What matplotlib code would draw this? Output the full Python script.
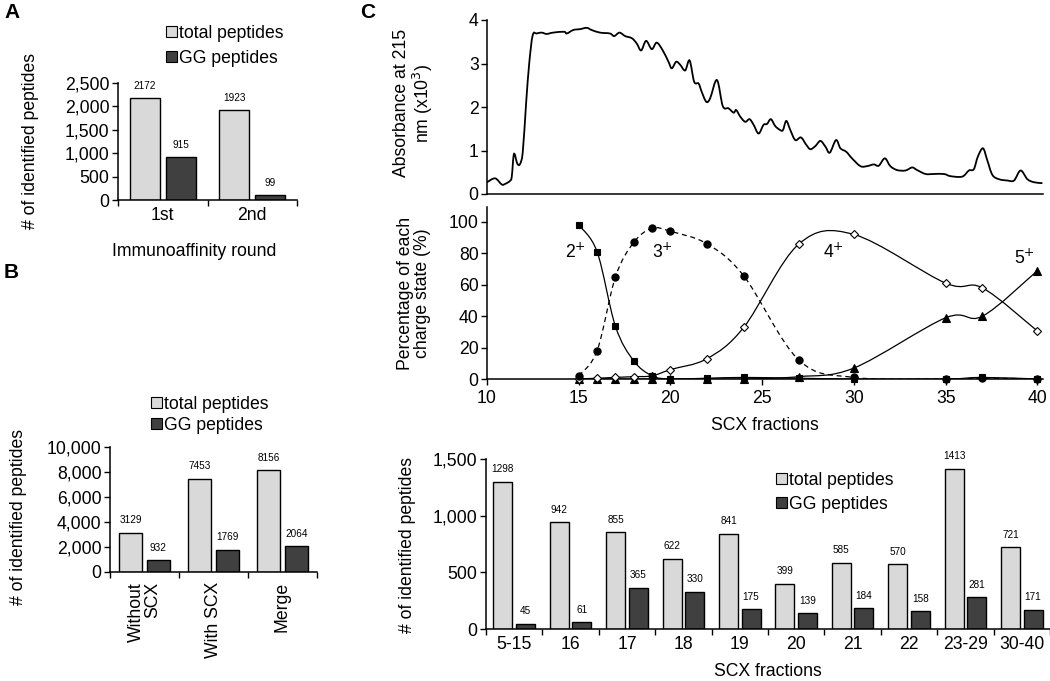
# Figure: ubiquitin GG peptide identification (A, B) and SCX fractionation (C)

import matplotlib.pyplot as plt
import numpy as np
from matplotlib.path import Path
from matplotlib.patches import PathPatch, Patch
from matplotlib.ticker import FuncFormatter

plt.rcParams['font.family'] = ['Liberation Sans', 'DejaVu Sans']

# Data

# A: immunoaffinity rounds
rounds = ['1st', '2nd']
rounds_total = [2172, 1923]
rounds_gg = [915, 99]

# B: with / without SCX
scx_groups = ['Without\nSCX', 'With SCX', 'Merge']
scx_total = [3129, 7453, 8156]
scx_gg = [932, 1769, 2064]

# C top: absorbance trace (x10^3) along SCX fractions
abs_fraction = [10.0, 10.44, 10.8, 10.98, 11.25, 11.35, 11.47, 11.65, 11.8, 11.95,
                12.13, 12.3, 12.49, 12.71, 12.98, 13.25, 13.6, 14.2, 14.35, 14.7,
                15.07, 15.44, 15.7, 16.16, 16.7, 16.93, 17.22, 17.53, 17.9, 18.16,
                18.4, 18.67, 18.98, 19.25, 19.58, 19.89, 20.07, 20.31, 20.53, 20.8,
                21.04, 21.29, 21.53, 21.7, 21.95, 22.16, 22.53, 22.85, 23.16, 23.44,
                23.58, 23.8, 24.07, 24.31, 24.53, 24.8, 25.07, 25.26, 25.47, 25.71,
                25.98, 26.13, 26.31, 26.53, 26.8, 27.11, 27.4, 27.62, 27.89, 28.17,
                28.44, 28.68, 29.02, 29.26, 29.58, 29.89, 30.35, 30.71, 31.08, 31.35,
                31.68, 31.98, 32.35, 32.8, 33.17, 33.44, 33.9, 34.35, 34.9, 35.26,
                35.9, 36.26, 36.53, 36.75, 37.03, 37.26, 37.54, 37.9, 38.36, 38.72,
                39.08, 39.45, 39.81, 40.27]
absorbance = [0.27, 0.36, 0.22, 0.23, 0.30, 0.40, 0.92, 0.70, 0.69, 0.97,
              2.08, 3.00, 3.65, 3.69, 3.71, 3.68, 3.71, 3.73, 3.69, 3.77,
              3.79, 3.82, 3.77, 3.71, 3.69, 3.63, 3.71, 3.63, 3.58, 3.46,
              3.30, 3.52, 3.33, 3.48, 3.30, 3.04, 2.89, 3.04, 2.97, 2.84,
              3.07, 2.58, 2.54, 2.35, 2.12, 2.20, 2.62, 2.02, 1.97, 1.87,
              1.93, 1.78, 1.66, 1.72, 1.59, 1.39, 1.59, 1.61, 1.72, 1.56,
              1.47, 1.47, 1.68, 1.47, 1.24, 1.30, 1.13, 1.03, 1.10, 1.22,
              1.09, 0.95, 1.24, 1.05, 0.97, 0.82, 0.64, 0.64, 0.68, 0.65,
              0.82, 0.64, 0.55, 0.54, 0.61, 0.55, 0.46, 0.46, 0.46, 0.41,
              0.40, 0.54, 0.57, 0.86, 1.05, 0.78, 0.44, 0.34, 0.31, 0.31,
              0.54, 0.34, 0.27, 0.25]

# C middle: charge state distribution (%)
fractions = [15, 16, 17, 18, 19, 20, 22, 24, 27, 30, 35, 37, 40]
charge2 = [98, 81, 33.5, 11.5, 2, 0, 0.5, 1, 0.5, 0, 0, 1, 0]
charge3 = [2, 18, 65, 87, 96, 94, 86, 65.5, 12, 1, 0, 0.5, 0]
charge4 = [0, 0.5, 1, 1.5, 2, 6, 13, 33, 86, 92, 61, 58, 30.5]
charge5 = [0, 0, 0, 0, 0, 0, 0, 0, 1.5, 7, 39, 40, 69]

# C bottom: peptides per SCX fraction
scx_fractions = ['5-15', '16', '17', '18', '19', '20', '21', '22', '23-29', '30-40']
fraction_total = [1298, 942, 855, 622, 841, 399, 585, 570, 1413, 721]
fraction_gg = [45, 61, 365, 330, 175, 139, 184, 158, 281, 171]

# Styling
LIGHT = '#d9d9d9'
DARK = '#404040'
W, H = 1050, 681
FS = 12.7
VAL_FS = 7.2

fig = plt.figure(figsize=(W / 100, H / 100), dpi=100)


def rect(l, t, r, b):
    return [l / W, 1 - b / H, (r - l) / W, (b - t) / H]


def fxy(x, y):
    return x / W, 1 - y / H


def style_axes(ax):
    for s in ['top', 'right']:
        ax.spines[s].set_visible(False)
    for s in ['left', 'bottom']:
        ax.spines[s].set_linewidth(1.1)
    ax.tick_params(direction='out', length=4, width=1.0, labelsize=FS, pad=2)


comma = FuncFormatter(lambda v, _: f'{int(v):,}')


def bar_pair(ax, cats, total, gg, ymax, yticks):
    x = np.arange(len(cats))
    ax.bar(x - 0.2, total, 0.335, color=LIGHT, edgecolor='black', linewidth=1.0, zorder=2)
    ax.bar(x + 0.2, gg, 0.335, color=DARK, edgecolor='black', linewidth=1.0, zorder=2)
    for xi, v in zip(x, total):
        ax.annotate(str(v), (xi - 0.2, v), xytext=(0, 9), textcoords='offset points',
                    ha='center', va='center', fontsize=VAL_FS)
    for xi, v in zip(x, gg):
        ax.annotate(str(v), (xi + 0.2, v), xytext=(0, 9), textcoords='offset points',
                    ha='center', va='center', fontsize=VAL_FS)
    ax.set_xlim(-0.5, len(cats) - 0.5)
    ax.set_ylim(0, ymax)
    ax.set_yticks(yticks)
    ax.yaxis.set_major_formatter(comma)
    style_axes(ax)
    # ticks between categories, labels at category centres
    ax.set_xticks(np.arange(len(cats) + 1) - 0.5)
    ax.set_xticklabels([])
    ax.set_xticks(x, minor=True)
    ax.tick_params(axis='x', which='minor', length=0, labelsize=FS, pad=5)
    return x


def legend_at(ax, x, y, spacing):
    handles = [Patch(facecolor=LIGHT, edgecolor='black', linewidth=0.8),
               Patch(facecolor=DARK, edgecolor='black', linewidth=0.8)]
    ax.legend(handles, ['total peptides', 'GG peptides'], loc='upper left',
              bbox_to_anchor=fxy(x, y), bbox_transform=fig.transFigure,
              frameon=False, fontsize=FS, handlelength=0.6, handleheight=0.6,
              handletextpad=0.15, labelspacing=spacing, borderpad=0, borderaxespad=0)


def smooth_path(x, y):
    # Excel-like smoothed line: cubic Bezier through the points
    pts = np.column_stack([x, y]).astype(float)
    n = len(pts)
    verts = [pts[0]]
    codes = [Path.MOVETO]
    for i in range(n - 1):
        p0 = pts[i - 1] if i > 0 else pts[i]
        p1, p2 = pts[i], pts[i + 1]
        p3 = pts[i + 2] if i + 2 < n else pts[i + 1]
        verts += [p1 + (p2 - p0) / 6, p2 - (p3 - p1) / 6, p2]
        codes += [Path.CURVE4] * 3
    return Path(verts, codes)


# Panel A
axA = fig.add_axes(rect(118, 83, 297, 200))
xa = bar_pair(axA, rounds, rounds_total, rounds_gg, 2500, [0, 500, 1000, 1500, 2000, 2500])
axA.set_xticklabels(rounds, minor=True)
legend_at(axA, 166, 25, 0.45)
fig.text(*fxy(194, 252), 'Immunoaffinity round', ha='center', va='center', fontsize=FS)
fig.text(*fxy(31, 141), '# of identified peptides', rotation=90, ha='center', va='center',
         fontsize=FS)

# Panel B
axB = fig.add_axes(rect(110, 447, 317, 572))
xb = bar_pair(axB, scx_groups, scx_total, scx_gg, 10000, [0, 2000, 4000, 6000, 8000, 10000])
axB.set_xticklabels([])
for xi, lab in zip(xb, scx_groups):
    axB.text(xi, -0.08, lab, transform=axB.get_xaxis_transform(), rotation=90,
             ha='center', va='top', multialignment='right', fontsize=FS, linespacing=1.0)
legend_at(axB, 151, 396, 0.2)
fig.text(*fxy(19, 517), '# of identified peptides', rotation=90, ha='center', va='center',
         fontsize=FS)

# Panel C top: absorbance
axT = fig.add_axes(rect(487, 20, 1043, 194))
axT.add_patch(PathPatch(smooth_path(abs_fraction, absorbance), facecolor='none',
                        edgecolor='black', linewidth=1.3))
axT.set_xlim(10, 40.3)
axT.set_ylim(0, 4)
axT.set_yticks([0, 1, 2, 3, 4])
axT.set_xticks([])
style_axes(axT)
fig.text(*fxy(414, 103), 'Absorbance at 215\nnm (x10$^3$)', rotation=90, ha='center',
         va='center', fontsize=FS, linespacing=1.05)

# Panel C middle: charge states
axM = fig.add_axes(rect(487, 207, 1043, 379))
series = [
    (charge2, 's', 'black', '-', 4.3),
    (charge3, 'o', 'black', (0, (4, 3)), 5.2),
    (charge4, 'D', 'white', '-', 4.3),
    (charge5, '^', 'black', '-', 5.5),
]
for vals, mk, fc, ls, ms in series:
    axM.add_patch(PathPatch(smooth_path(fractions, vals), facecolor='none',
                            edgecolor='black', linewidth=0.9, linestyle=ls, zorder=2))
for vals, mk, fc, ls, ms in series[::-1]:
    axM.plot(fractions, vals, linestyle='none', marker=mk, markersize=ms,
             markerfacecolor=fc, markeredgecolor='black', markeredgewidth=0.8,
             zorder=3, clip_on=False)
axM.set_xlim(10, 40.3)
axM.set_ylim(0, 109.5)
axM.set_yticks([0, 20, 40, 60, 80, 100])
axM.set_xticks([10, 15, 20, 25, 30, 35, 40])
style_axes(axM)
axM.tick_params(axis='x', pad=4)
for lab, xx, yy in [('2$^{+}$', 14.8, 81), ('3$^{+}$', 19.55, 81),
                    ('4$^{+}$', 28.9, 81), ('5$^{+}$', 39.3, 77)]:
    axM.text(xx, yy, lab, ha='center', va='center', fontsize=FS)
fig.text(*fxy(765, 425), 'SCX fractions', ha='center', va='center', fontsize=FS)
fig.text(*fxy(414, 293), 'Percentage of each\ncharge state (%)', rotation=90, ha='center',
         va='center', fontsize=FS, linespacing=1.05)

# Panel C bottom: peptides per fraction
axC = fig.add_axes(rect(486, 459, 1050, 629))
bar_pair(axC, scx_fractions, fraction_total, fraction_gg, 1500, [0, 500, 1000, 1500])
axC.set_xticklabels(scx_fractions, minor=True)
legend_at(axC, 776, 472, 0.4)
fig.text(*fxy(768, 671), 'SCX fractions', ha='center', va='center', fontsize=FS)
fig.text(*fxy(408, 545), '# of identified peptides', rotation=90, ha='center',
         va='center', fontsize=FS)

# Panel letters
for lab, x, y in [('A', 4, 12), ('B', 4, 272), ('C', 360, 12)]:
    fig.text(*fxy(x, y), lab, ha='left', va='center', fontsize=15, fontweight='bold')

fig.savefig('out.png', dpi=100)
